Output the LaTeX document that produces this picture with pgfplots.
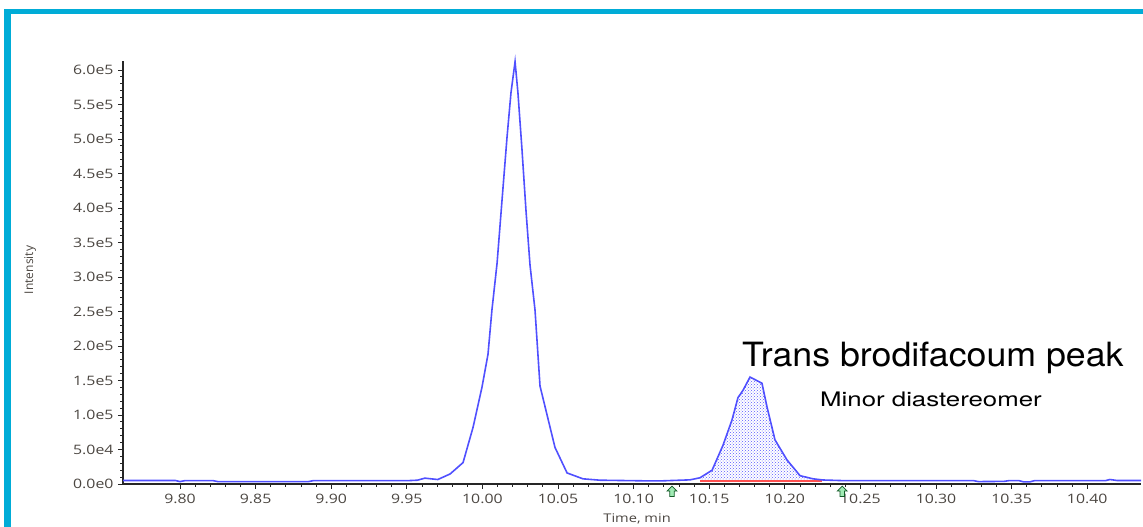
\documentclass[border=0pt]{standalone}
\usepackage{pgfplots}
\pgfplotsset{compat=1.18}
\usetikzlibrary{patterns}
\usepackage{fontspec}
\setmainfont{Open Sans}
\newfontfamily\tickfont[FakeStretch=1.22]{Open Sans}
\newfontfamily\annotfont[FakeStretch=1.07]{TeX Gyre Heros}
\newfontfamily\minorfont[FakeStretch=1.29]{TeX Gyre Heros}
\definecolor{frame}{RGB}{0,172,215}
\definecolor{curve}{RGB}{80,80,255}
\definecolor{tickgray}{RGB}{75,70,65}
\definecolor{basered}{RGB}{255,80,80}
\definecolor{arrowgreen}{RGB}{160,235,180}
\definecolor{arrowdark}{RGB}{20,90,40}

\pgfdeclareplotmark{greenarrow}{%
  \pgfpathmoveto{\pgfpoint{0pt}{5.5pt}}%
  \pgfpathlineto{\pgfpoint{5pt}{0.5pt}}%
  \pgfpathlineto{\pgfpoint{2.2pt}{0.5pt}}%
  \pgfpathlineto{\pgfpoint{2.2pt}{-5pt}}%
  \pgfpathlineto{\pgfpoint{-2.2pt}{-5pt}}%
  \pgfpathlineto{\pgfpoint{-2.2pt}{0.5pt}}%
  \pgfpathlineto{\pgfpoint{-5pt}{0.5pt}}%
  \pgfpathclose
  \pgfusepathqfillstroke
}

\begin{document}
\begin{tikzpicture}[x=1pt,y=1pt]
\useasboundingbox (0,0) rectangle (1143,527);
\fill[frame] (4,0) rectangle (10.5,518);
\fill[frame] (4,513) rectangle (1143,518);
\begin{axis}[
  at={(123pt,43pt)}, anchor=south west,
  scale only axis, width=1018pt, height=423pt,
  xmin=9.7623, xmax=10.4356, ymin=0, ymax=613000,
  axis lines=left,
  axis line style={-, line width=1.1pt, black!85},
  every tick/.style={line width=0.8pt, black!85},
  tick align=outside,
  major tick length=5pt, minor tick length=3pt,
  clip=false,
  scaled y ticks=false, scaled x ticks=false,
  /pgf/number format/assume math mode=true,
  xtick={9.80,9.85,9.90,9.95,10.00,10.05,10.10,10.15,10.20,10.25,10.30,10.35,10.40},
  xticklabels={9.80,9.85,9.90,9.95,10.00,10.05,10.10,10.15,10.20,10.25,10.30,10.35,10.40},
  ytick={0,50000,100000,150000,200000,250000,300000,350000,400000,450000,500000,550000,600000},
  yticklabels={0.0e0,5.0e4,1.0e5,1.5e5,2.0e5,2.5e5,3.0e5,3.5e5,4.0e5,4.5e5,5.0e5,5.5e5,6.0e5},
  minor x tick num=4, minor y tick num=4,
  tick label style={font=\tickfont\fontsize{13}{13}\selectfont, text=tickgray},
  xticklabel style={yshift=-2pt},
  yticklabel style={xshift=-1pt},
  xlabel={Time, min},
  ylabel={Intensity},
  xlabel style={at={(axis description cs:0.505,-0.0827)}, anchor=center, font=\tickfont\fontsize{12}{12}\selectfont, text=tickgray},
  ylabel style={at={(axis description cs:-0.0913,0.506)}, anchor=center, rotate=0, font=\fontsize{12}{12}\selectfont, text=tickgray},
]
% shaded integrated area
\addplot[draw=none, pattern=crosshatch dots, pattern color=blue!65] coordinates {
(10.1439,4300) (10.1439,9000) (10.1519,20000) (10.1591,56000) (10.1651,93000)
(10.1690,125000) (10.1724,136000) (10.1770,155000) (10.1849,146000) (10.1882,112000)
(10.1935,64000) (10.2014,35000) (10.2101,12000) (10.2187,7500) (10.2245,5900) (10.2245,4300)
} -- cycle;
% integration baseline
\addplot[basered, line width=1.3pt] coordinates {(10.1439,4300) (10.2245,4300)};
% chromatogram
\addplot[curve, line width=1.6pt] coordinates {
(9.7623,5000) (9.7970,5000) (9.8000,3500) (9.8030,4800) (9.8220,4800) (9.8250,3500)
(9.8850,3500) (9.8880,4800) (9.9450,4800) (9.9500,4800) (9.9570,5500) (9.9620,8500)
(9.9660,7500) (9.9705,6500) (9.9786,14500) (9.9872,31000) (9.9938,82000)
(9.9997,140000) (10.0037,188000) (10.0063,252000) (10.0097,320000) (10.0130,412000)
(10.0163,503000) (10.0189,567000) (10.0216,612000) (10.0235,567000) (10.0262,484000)
(10.0288,397000) (10.0315,317000) (10.0348,252000) (10.0381,142000) (10.0480,53000)
(10.0560,16000) (10.0665,7500) (10.0778,5500) (10.1100,4500) (10.1180,4500)
(10.1373,6000) (10.1439,9000) (10.1519,20000) (10.1591,56000) (10.1651,93000)
(10.1690,125000) (10.1724,136000) (10.1770,155000) (10.1849,146000) (10.1882,112000)
(10.1935,64000) (10.2014,35000) (10.2101,12000) (10.2187,7500) (10.2253,5800)
(10.2400,4800) (10.3250,4800) (10.3280,3500) (10.3450,3800) (10.3480,4800)
(10.3550,4800) (10.3580,3000) (10.3620,3000) (10.3650,4800) (10.4120,4800)
(10.4150,6500) (10.4200,5000) (10.4356,5000)
};
% peak markers
\addplot[only marks, mark=greenarrow, mark options={fill=arrowgreen, draw=arrowdark, line width=0.7pt}] coordinates {(10.1254,-11000) (10.2380,-11000)};
\node[anchor=base west, inner sep=0pt, font=\annotfont\fontsize{33.4}{33.4}\selectfont] at (axis cs:10.1717,169600) {Trans brodifacoum peak};
\node[anchor=base west, inner sep=0pt, font=\minorfont\fontsize{20}{20}\selectfont] at (axis cs:10.2233,112000) {Minor diastereomer};
\end{axis}
\end{tikzpicture}
\end{document}
